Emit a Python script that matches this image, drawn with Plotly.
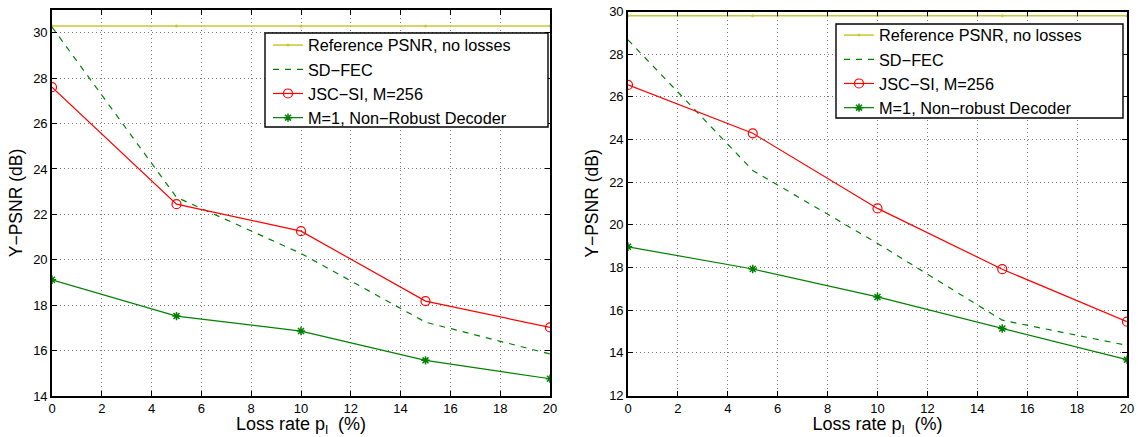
import plotly.graph_objects as go

loss = [0, 5, 10, 15, 20]

# Left panel
ref_left = [30.3, 30.3, 30.3, 30.3, 30.3]
sdfec_left = [30.25, 22.75, 20.28, 17.25, 15.85]
jsc_left = [27.6, 22.45, 21.26, 18.18, 17.02]
m1_left = [19.12, 17.52, 16.86, 15.57, 14.76]

# Right panel
ref_right = [29.8, 29.8, 29.8, 29.8, 29.8]
sdfec_right = [28.67, 22.55, 19.13, 15.53, 14.35]
jsc_right = [26.56, 24.29, 20.77, 17.92, 15.46]
m1_right = [18.97, 17.93, 16.62, 15.14, 13.68]

names_left = ["Reference PSNR, no losses", "SD−FEC", "JSC−SI, M=256", "M=1, Non−Robust Decoder"]
names_right = ["Reference PSNR, no losses", "SD−FEC", "JSC−SI, M=256", "M=1, Non−robust Decoder"]

YEL = "#c8c832"
GRN = "#008000"
RED = "#ff0000"
FONT = "Liberation Sans, Arial, sans-serif"

fig = go.Figure()

def add_panel(ax, lg, ref, sd, jsc, m1, names):
    xa = "x" if ax == 1 else "x%d" % ax
    ya = "y" if ax == 1 else "y%d" % ax
    fig.add_trace(go.Scatter(x=loss, y=ref, name=names[0], mode="lines+markers",
                             line=dict(color=YEL, width=1.5),
                             marker=dict(symbol="circle", size=3, color=YEL),
                             xaxis=xa, yaxis=ya, legend=lg))
    fig.add_trace(go.Scatter(x=loss, y=sd, name=names[1], mode="lines",
                             line=dict(color=GRN, width=1.2, dash="6px,6px"),
                             xaxis=xa, yaxis=ya, legend=lg))
    fig.add_trace(go.Scatter(x=loss, y=jsc, name=names[2], mode="lines+markers",
                             line=dict(color=RED, width=1.2),
                             marker=dict(symbol="circle-open", size=9, color=RED, line=dict(width=1.2)),
                             xaxis=xa, yaxis=ya, legend=lg))
    fig.add_trace(go.Scatter(x=loss, y=m1, name=names[3], mode="lines+markers",
                             line=dict(color=GRN, width=1.2),
                             marker=dict(symbol="asterisk-open", size=7, color=GRN, line=dict(width=1.5, color=GRN)),
                             xaxis=xa, yaxis=ya, legend=lg))

add_panel(1, "legend", ref_left, sdfec_left, jsc_left, m1_left, names_left)
add_panel(2, "legend2", ref_right, sdfec_right, jsc_right, m1_right, names_right)

W, H = 1138, 437
def px_x(p): return p / W
def px_y(p): return 1 - p / H

axis_common = dict(
    showline=True, linecolor="black", linewidth=1.6, mirror="ticks",
    ticks="inside", ticklen=5, tickcolor="black", tickwidth=1,
    showgrid=True, gridcolor="#777777", griddash="1px,3px", gridwidth=1,
    zeroline=False, automargin=False,
    tickfont=dict(family=FONT, size=13, color="black"),
)

xtitle = dict(text="Loss rate p<sub>l</sub>  (%)", font=dict(family=FONT, size=18, color="black"), standoff=5)
ytitle = dict(text="Y−PSNR (dB)", font=dict(family=FONT, size=17.5, color="black"), standoff=6)

leg_common = dict(xanchor="left", yanchor="top",
                  bgcolor="rgba(0,0,0,0)", borderwidth=0,
                  font=dict(family=FONT, size=16.3, color="black"),
                  itemwidth=30, tracegroupgap=0)

# legend frames (pixel boxes)
def frame(x0, y0, x1, y1):
    return dict(type="rect", xref="paper", yref="paper",
                x0=px_x(x0), x1=px_x(x1), y0=px_y(y1), y1=px_y(y0),
                fillcolor="white", line=dict(color="black", width=1.4), layer="above")

fig.update_layout(
    width=W, height=H,
    margin=dict(l=0, r=0, t=0, b=0),
    paper_bgcolor="white", plot_bgcolor="white",
    font=dict(family=FONT, color="black"),
    xaxis=dict(domain=[px_x(52), px_x(550)], range=[0, 20], dtick=2, anchor="y",
               title=xtitle, **axis_common),
    yaxis=dict(domain=[px_y(396), px_y(10)], range=[14, 31], tickvals=list(range(14, 31, 2)),
               anchor="x", title=ytitle, **axis_common),
    xaxis2=dict(domain=[px_x(628), px_x(1127)], range=[0, 20], dtick=2, anchor="y2",
                title=xtitle, **axis_common),
    yaxis2=dict(domain=[px_y(395.5), px_y(11.5)], range=[12, 30], dtick=2,
                anchor="x2", title=ytitle, **axis_common),
    legend=dict(x=px_x(268), y=px_y(28), **leg_common),
    legend2=dict(x=px_x(839), y=px_y(18), **leg_common),
    shapes=[frame(265, 33, 548, 127), frame(836, 24, 1123, 118)],
)

fig.write_html("out.html", config={"displayModeBar": False},
               post_script="document.body.style.margin='0';document.body.style.padding='0';")
